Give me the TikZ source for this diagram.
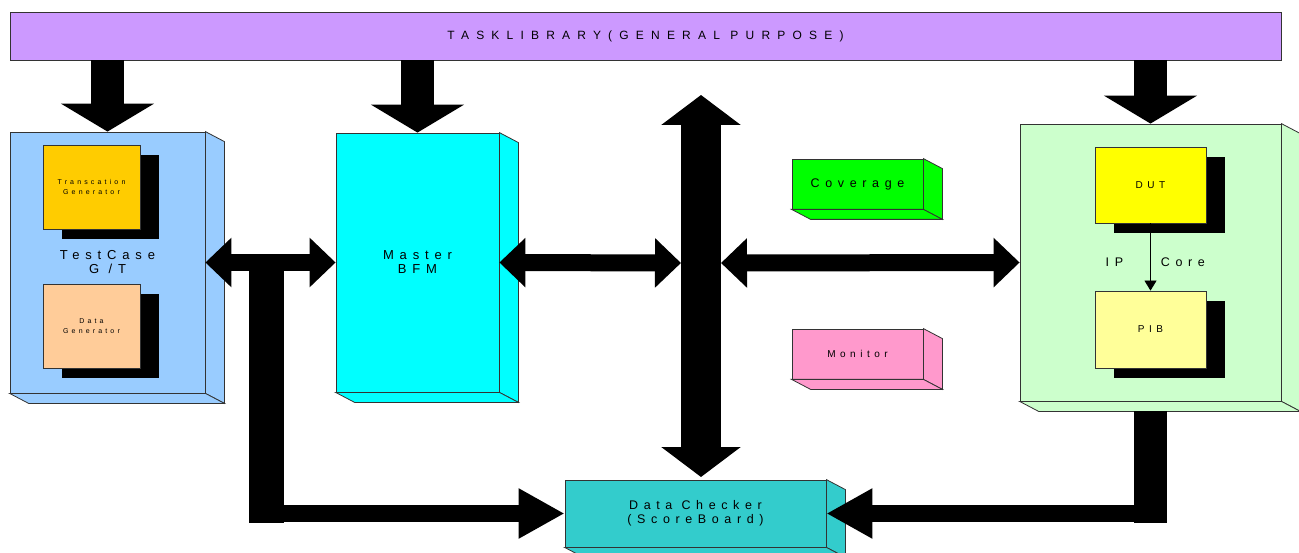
\documentclass[tikz,border=0pt]{standalone}
\usepackage{fontspec}
\newfontfamily\spaced[LetterSpace=45]{Liberation Sans}
\newfontfamily\wide[LetterSpace=60]{Liberation Sans}
\usetikzlibrary{arrows.meta,calc,shadows}

\definecolor{libpurple}{HTML}{CC99FF}
\definecolor{tcblue}{HTML}{99CCFF}
\definecolor{tgorange}{HTML}{FFCC00}
\definecolor{dgpeach}{HTML}{FFCC99}
\definecolor{bfmcyan}{HTML}{00FFFF}
\definecolor{covgreen}{HTML}{00FF00}
\definecolor{monpink}{HTML}{FF99CC}
\definecolor{ipgreen}{HTML}{CCFFCC}
\definecolor{dutyellow}{HTML}{FFFF00}
\definecolor{pibyellow}{HTML}{FFFF99}
\definecolor{dcteal}{HTML}{33CCCC}

% side and bottom faces of a 3d box
\newcommand{\cuboid}[2]{%
  \fill[#2, draw=black!80, line width=0.8pt] (#1.north east) -- ++(19,10) -- ($(#1.south east)+(19,10)$) -- (#1.south east) -- cycle;
  \fill[#2, draw=black!80, line width=0.8pt] (#1.south west) -- (#1.south east) -- ++(19,10) -- ($(#1.south west)+(19,10)$) -- cycle;}

\begin{document}
\begin{tikzpicture}[x=1pt, y=-1pt,
  every node/.style={font=\spaced, align=center, inner sep=0pt},
  box/.style={rectangle, draw=black!80, line width=0.8pt},
  shadowed/.style={box, drop shadow={shadow xshift=19pt, shadow yshift=-10pt, fill=black, opacity=1}},
  feed/.style={line width=33pt, -{Triangle[length=28pt, width=92pt]}},
  link/.style={line width=17pt, {Triangle[length=26pt, width=48pt]}-{Triangle[length=26pt, width=48pt]}},
  bus/.style={line width=40pt, {Triangle[length=30pt, width=78pt]}-{Triangle[length=30pt, width=78pt]}},
  tail/.style={line width=17pt, -{Triangle[length=46pt, width=47pt]}}
]
\useasboundingbox (0,0) rectangle (1299,553);

% Task library
\node[box, fill=libpurple, minimum width=1271pt, minimum height=48pt, font=\wide\fontsize{12}{14}\selectfont]
  (lib) at (645.5,36) {TASKLIBRARY(GENERAL PURPOSE)};

% Boxes
\node[box, fill=tcblue, minimum width=195pt, minimum height=261pt, font=\spaced\fontsize{13}{14}\selectfont]
  (tc) at (107.5,262.5) {TestCase\\G /T};
\cuboid{tc}{tcblue}
\node[shadowed, fill=tgorange, minimum width=97pt, minimum height=84pt, font=\spaced\fontsize{7}{9.5}\selectfont]
  (tg) at (91.5,187) {Transcation\\Generator};
\node[shadowed, fill=dgpeach, minimum width=97pt, minimum height=84pt, font=\spaced\fontsize{7}{9.5}\selectfont]
  (dg) at (91.5,326) {Data\\Generator};

\node[box, fill=bfmcyan, minimum width=163pt, minimum height=259pt, font=\spaced\fontsize{13}{14}\selectfont]
  (ms) at (417.5,262.5) {Master\\BFM};
\cuboid{ms}{bfmcyan}

\node[box, fill=covgreen, minimum width=131pt, minimum height=50pt, font=\spaced\fontsize{12.5}{14}\selectfont]
  (cov) at (857.5,184) {Coverage};
\cuboid{cov}{covgreen}
\node[box, fill=monpink, minimum width=131pt, minimum height=50pt, font=\spaced\fontsize{10}{12}\selectfont]
  (mon) at (857.5,354) {Monitor};
\cuboid{mon}{monpink}

\node[box, fill=ipgreen, minimum width=261pt, minimum height=277pt] (ip) at (1150.5,262.5) {};
\cuboid{ip}{ipgreen}
\node[shadowed, fill=dutyellow, minimum width=111pt, minimum height=76pt, font=\spaced\fontsize{10}{12}\selectfont]
  (dut) at (1150.5,185) {DUT};
\node[shadowed, fill=pibyellow, minimum width=111pt, minimum height=77pt, font=\spaced\fontsize{10}{12}\selectfont]
  (pib) at (1150.5,329.5) {PIB};
\draw[-{Triangle[length=10pt, width=12pt]}, line width=0.8pt] (dut.south) -- (pib.north)
  node[pos=0.57, left=27pt, font=\spaced\fontsize{12.5}{14}\selectfont] {IP}
  node[pos=0.57, right=10pt, font=\spaced\fontsize{12.5}{14}\selectfont] {Core};

\node[box, fill=dcteal, minimum width=261pt, minimum height=67pt, font=\spaced\fontsize{12.5}{14}\selectfont]
  (dc) at (695.5,513.5) {Data Checker\\(ScoreBoard)};
\cuboid{dc}{dcteal}

% Bus and taps
\coordinate (bustop) at (701,95);
\coordinate (busbot) at (701,477);
\coordinate (busL) at (681,263);
\coordinate (busR) at (721,263);
\coordinate (tap) at (266.5,263);

% Arrows
\draw[feed] (tc.north |- lib.south) -- (tc.north);
\draw[feed] (ms.north |- lib.south) -- (ms.north);
\draw[feed] (ip.north |- lib.south) -- (ip.north);
\draw[bus] (bustop) -- (busbot);
\draw[link] (tc.east) -- (ms.west);
\draw[link] (ms.east) -- (busL);
\draw[link] (busR) -- (ip.west);
\draw[line width=35pt] (tap) -- ($(tap |- dc.west)+(0,9)$);
\draw[tail] ($(tap |- dc.west)+(-17.5,0)$) -- (dc.west);
\draw[line width=33pt] ($(ip.south)+(0,10)$) -- ($(ip.south |- dc.east)+(0,9)$);
\draw[tail] ($(ip.south |- dc.east)+(16.5,0)$) -- (dc.east);

\end{tikzpicture}
\end{document}
